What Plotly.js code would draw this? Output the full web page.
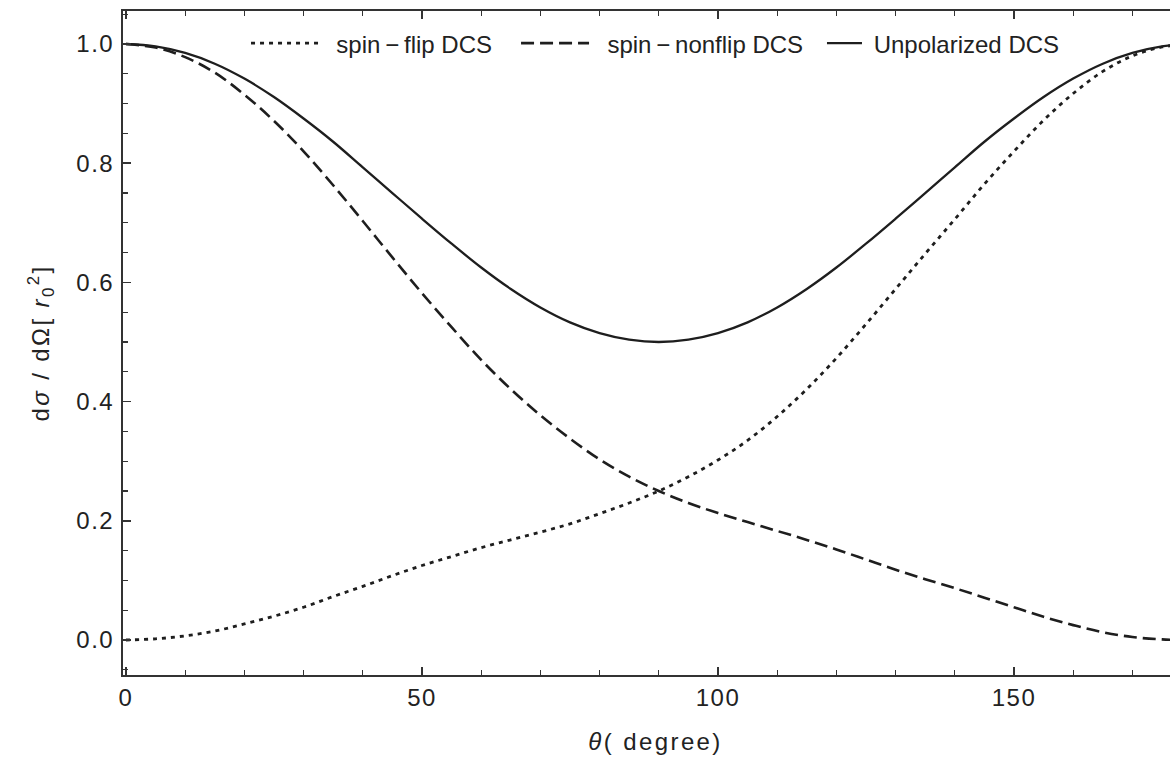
<!DOCTYPE html>
<html>
<head>
<meta charset="utf-8">
<script src="https://cdn.plot.ly/plotly-3.0.1.min.js"></script>
<style>
html,body{margin:0;padding:0;background:#fff;}
#chart{width:1170px;height:760px;}
.xtick text,.ytick text{letter-spacing:1.5px;}
.xtitle,.ytitle{letter-spacing:2.4px;}
</style>
</head>
<body>
<div id="chart"></div>
<script>
// Scattering angle theta (degree)
const theta = [0,5,10,15,20,25,30,35,40,45,50,55,60,65,70,75,80,85,90,95,100,105,110,115,120,125,130,135,140,145,150,155,160,165,170,175,180];
// spin-flip DCS (dotted)
const spinFlip = [0.000,0.002,0.007,0.015,0.027,0.040,0.055,0.073,0.090,0.108,0.125,0.140,0.155,0.168,0.181,0.195,0.212,0.230,0.250,0.274,0.302,0.335,0.375,0.421,0.473,0.530,0.589,0.648,0.706,0.765,0.820,0.872,0.917,0.954,0.980,0.995,1.000];
// spin-nonflip DCS (dashed)
const spinNonflip = [1.000,0.994,0.978,0.952,0.915,0.871,0.820,0.763,0.703,0.642,0.582,0.525,0.470,0.421,0.377,0.338,0.303,0.274,0.250,0.230,0.213,0.198,0.183,0.168,0.152,0.135,0.118,0.102,0.087,0.071,0.055,0.039,0.025,0.013,0.005,0.001,0.000];
// Unpolarized DCS (solid)
const unpolarized = [1.000,0.996,0.985,0.967,0.942,0.911,0.875,0.836,0.793,0.750,0.707,0.665,0.625,0.589,0.558,0.533,0.515,0.504,0.500,0.504,0.515,0.533,0.558,0.589,0.625,0.665,0.707,0.750,0.793,0.836,0.875,0.911,0.942,0.967,0.985,0.996,1.000];

const seriesNames = ['spin\u2009\u2212\u2009flip DCS', 'spin\u2009\u2212\u2009nonflip DCS', 'Unpolarized DCS'];
const ink = '#1e1e1e';
const pad2 = '\u00a0\u00a0', pad1 = '\u00a0';

const traces = [
  {x: theta, y: spinFlip, name: pad2 + seriesNames[0], legend: 'legend', mode: 'lines', line: {color: ink, width: 2.8, dash: '4px,5px', shape: 'spline'}},
  {x: theta, y: spinNonflip, name: pad2 + seriesNames[1], legend: 'legend2', mode: 'lines', line: {color: ink, width: 2.6, dash: '13px,6px', shape: 'spline'}},
  {x: theta, y: unpolarized, name: pad1 + seriesNames[2], legend: 'legend3', mode: 'lines', line: {color: ink, width: 2.3, shape: 'spline'}}
];

const fontFam = '"Liberation Sans", Arial, Helvetica, sans-serif';
const legBase = (x, w) => ({orientation: 'h', x: x, xanchor: 'left', y: 0.951, yanchor: 'middle',
  bgcolor: 'rgba(0,0,0,0)', borderwidth: 0, itemwidth: w,
  font: {family: fontFam, size: 24, color: '#222'}});

const layout = {
  width: 1170, height: 760,
  margin: {l: 123, r: 0, t: 11, b: 85, pad: 0},
  paper_bgcolor: '#fff', plot_bgcolor: '#fff',
  font: {family: fontFam, color: '#222', size: 18},
  showlegend: true,
  legend: legBase(0.1175, 67),
  legend2: legBase(0.3754, 68),
  legend3: legBase(0.6676, 35),
  xaxis: {
    range: [-0.5, 176.35], showgrid: false, zeroline: false,
    showline: true, linecolor: '#333', linewidth: 2, mirror: 'ticks',
    ticks: 'inside', ticklen: 8, tickwidth: 1.5, tickcolor: '#333',
    tickvals: [0, 50, 100, 150], ticktext: ['0', '50', '100', '150'],
    minor: {tickvals: [10,20,30,40,60,70,80,90,110,120,130,140,160,170], ticks: 'inside', ticklen: 5, tickwidth: 1.3, tickcolor: '#333'},
    tickfont: {size: 24, family: fontFam, color: '#222'},
    ticklabelstandoff: 0,
    title: {text: '\u200b\u00a0\u00a0<i>θ</i>( degree)', font: {size: 24, family: fontFam, color: '#222'}, standoff: 23}
  },
  yaxis: {
    range: [-0.0587, 1.0554], showgrid: false, zeroline: false,
    showline: true, linecolor: '#333', linewidth: 2, mirror: false,
    ticks: 'inside', ticklen: 8, tickwidth: 1.5, tickcolor: '#333',
    tickvals: [0, 0.2, 0.4, 0.6, 0.8, 1.0], ticktext: ['0.0', '0.2', '0.4', '0.6', '0.8', '1.0'],
    minor: {tickvals: [-0.05,0.05,0.1,0.15,0.25,0.3,0.35,0.45,0.5,0.55,0.65,0.7,0.75,0.85,0.9,0.95,1.05], ticks: 'inside', ticklen: 5, tickwidth: 1.3, tickcolor: '#333'},
    tickfont: {size: 24, family: fontFam, color: '#222'},
    ticklabelstandoff: 2,
    title: {text: 'd<i>σ</i> / dΩ[ <i>r</i><sub>0</sub><sup>2</sup>]', font: {size: 24, family: fontFam, color: '#222'}, standoff: 20}
  }
};

Plotly.newPlot('chart', traces, layout, {displayModeBar: false, staticPlot: true});
</script>
</body>
</html>
